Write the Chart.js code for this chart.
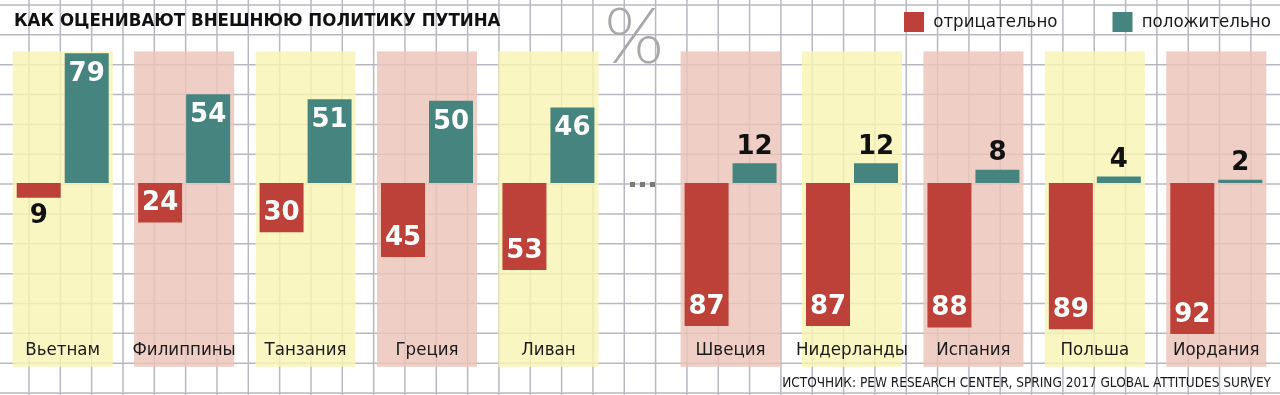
<!DOCTYPE html>
<html>
<head>
<meta charset="utf-8">
<script src="https://cdn.jsdelivr.net/npm/chart.js@4.4.1/dist/chart.umd.min.js"></script>
<style>
html,body{margin:0;padding:0;background:#fff;overflow:hidden}
#c{display:block}
</style>
</head>
<body>
<canvas id="c" width="1280" height="395"></canvas>
<script>
// ---------- data ----------
const titleText = 'КАК ОЦЕНИВАЮТ ВНЕШНЮЮ ПОЛИТИКУ ПУТИНА';
const sourceText = 'ИСТОЧНИК: PEW RESEARCH CENTER, SPRING 2017 GLOBAL ATTITUDES SURVEY';
const seriesNames = ['отрицательно', 'положительно'];
const countries = ['Вьетнам', 'Филиппины', 'Танзания', 'Греция', 'Ливан', 'Швеция', 'Нидерланды', 'Испания', 'Польша', 'Иордания'];
const negative = [9, 24, 30, 45, 53, 87, 87, 88, 89, 92];
const positive = [79, 54, 51, 50, 46, 12, 12, 8, 4, 2];
const gapAfter = 5; // "..." break after the first five countries

// ---------- layout / style ----------
const RED = '#BE4139';
const TEAL = '#46857F';
const NARROW = '"Liberation Sans Narrow", "DejaVu Sans Condensed", "Liberation Sans", sans-serif';
const slot = i => (i < gapAfter ? i : i + 0.5);

const paper = {
  id: 'paper',
  afterLayout(chart) {
    const lg = chart.legend;
    const P = lg.options.labels.padding;
    lg.left = 904 - P; lg.right = 1500; lg.top = 12 - P; lg.bottom = 60;
    chart.titleBlock.left = 14;
    const sub = chart.boxes.find(b => b.options && b.options.text === sourceText);
    if (sub) sub.right = 1271;
  },
  beforeDraw(chart) {
    const ctx = chart.ctx, W = chart.width, H = chart.height;
    ctx.save();
    ctx.fillStyle = '#fff';
    ctx.fillRect(0, 0, W, H);
    // graph paper
    ctx.strokeStyle = '#b8b8c1';
    ctx.lineWidth = 1.5;
    ctx.beginPath();
    for (let x = 29; x < W; x += 31.33) { ctx.moveTo(x, 0); ctx.lineTo(x, H); }
    for (let y = 5; y < H; y += 29.85) { ctx.moveTo(0, y); ctx.lineTo(W, y); }
    ctx.stroke();
    // country panels
    const xs = chart.scales.x, ys = chart.scales.y;
    const top = ys.getPixelForValue(ys.max);
    const bottom = xs.bottom - 5;
    countries.forEach((c, i) => {
      const l = xs.getPixelForValue(slot(i) - 0.412);
      const r = xs.getPixelForValue(slot(i) + 0.412);
      ctx.fillStyle = i % 2 === 0 ? 'rgba(249,244,180,0.82)' : 'rgba(236,196,184,0.82)';
      ctx.fillRect(l, top, r - l, bottom - top);
    });
    // percent sign
    ctx.save();
    ctx.fillStyle = '#a8a8a8';
    ctx.font = '300 76px "Lato", "DejaVu Sans", sans-serif';
    ctx.textAlign = 'center';
    ctx.textBaseline = 'alphabetic';
    ctx.translate(634, 63);
    ctx.scale(1.0, 1);
    ctx.fillText('%', 0, 0);
    ctx.restore();
    // "..." break marker
    const cx = xs.getPixelForValue((slot(gapAfter - 1) + slot(gapAfter)) / 2);
    const cy = ys.getPixelForValue(0);
    ctx.fillStyle = '#7a7a7a';
    for (let k = -1; k <= 1; k++) ctx.fillRect(cx + 3 + k * 10 - 2.5, cy - 1, 5, 5);
    ctx.restore();
  },
  afterDatasetsDraw(chart) {
    const ctx = chart.ctx;
    ctx.save();
    ctx.font = 'bold 26px "DejaVu Sans", sans-serif';
    ctx.textAlign = 'center';
    ctx.textBaseline = 'middle';
    chart.data.datasets.forEach((ds, di) => {
      chart.getDatasetMeta(di).data.forEach((bar, j) => {
        const v = ds.data[j].y;
        const mag = Math.abs(v);
        const dir = v >= 0 ? 1 : -1;
        let y;
        if (mag >= 20) { y = bar.y + dir * 20; ctx.fillStyle = '#fff'; }
        else { y = bar.y - dir * 17.5; ctx.fillStyle = '#111'; }
        ctx.fillText(String(mag), bar.x, y + 1);
      });
    });
    ctx.restore();
  }
};

const barStyle = { categoryPercentage: 0.7906, barPercentage: 0.9167, clip: false, borderWidth: 0 };

new Chart(document.getElementById('c'), {
  type: 'bar',
  data: {
    datasets: [
      Object.assign({ label: seriesNames[0], backgroundColor: RED,
        data: negative.map((v, i) => ({ x: slot(i), y: -v })) }, barStyle),
      Object.assign({ label: seriesNames[1], backgroundColor: TEAL,
        data: positive.map((v, i) => ({ x: slot(i), y: v })) }, barStyle)
    ]
  },
  options: {
    responsive: false,
    animation: false,
    devicePixelRatio: 1,
    layout: { padding: { left: 2, right: 3, top: 0, bottom: 0 } },
    scales: {
      x: {
        type: 'linear', min: -0.5, max: 10, offset: false,
        grid: { display: false, drawTicks: false },
        border: { display: false },
        afterBuildTicks: s => { s.ticks = countries.map((c, i) => ({ value: slot(i) })); },
        ticks: {
          autoSkip: false, maxRotation: 0, minRotation: 0, padding: 10.7,
          color: '#1a1a1a',
          font: { family: NARROW, size: 18.5 },
          callback: (v, i) => countries[i]
        }
      },
      y: { display: false, min: -88.4, max: 80.1 }
    },
    plugins: {
      tooltip: { enabled: false },
      title: {
        display: true, text: titleText, align: 'start', color: '#111',
        font: { family: NARROW, size: 18.5, weight: 'bold' },
        padding: { top: 9.9, bottom: 6.3 }
      },
      legend: {
        display: true, position: 'top', align: 'start', maxHeight: 13,
        labels: {
          boxWidth: 20, boxHeight: 20, padding: 55, color: '#1a1a1a',
          font: { family: NARROW, size: 18.5 }
        }
      },
      subtitle: {
        display: true, position: 'bottom', align: 'end', text: sourceText, color: '#1a1a1a',
        font: { family: NARROW, size: 13.5 },
        padding: { top: 4, bottom: 3 }
      }
    }
  },
  plugins: [paper]
});
</script>
</body>
</html>
